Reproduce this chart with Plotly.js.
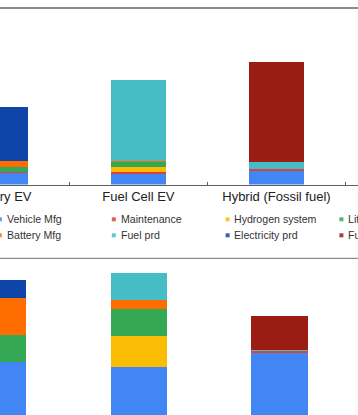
<!DOCTYPE html>
<html>
<head>
<meta charset="utf-8">
<script src="https://cdn.plot.ly/plotly-3.0.1.min.js"></script>
<style>
  html, body { margin: 0; padding: 0; background: #fff; }
  #chart { width: 358px; height: 415px; }
</style>
</head>
<body>
<div id="chart"></div>
<script>
// ---- Data ----
const categories = ['Battery EV', 'Fuel Cell EV', 'Hybrid (Fossil fuel)'];
const seriesNames = ['Vehicle Mfg', 'Maintenance', 'Hydrogen system', 'Lithium battery',
                     'Battery Mfg', 'Fuel prd', 'Electricity prd', 'Fuel combustion'];
const seriesColors = ['#4285F4', '#DB4437', '#FBBC04', '#34A853',
                      '#FF6D01', '#46BDC6', '#0F45A8', '#9B1C13'];

// Upper panel
const vehicleMfgTop   = [11.8, 10.8, 14.0];
const maintenanceTop  = [0.6, 1.4, 2.0];
const hydrogenTop     = [0, 5.3, 0];
const lithiumTop      = [5.1, 5.3, 0];
const batteryMfgTop   = [5.7, 0.4, 0];
const fuelPrdTop      = [0, 81.4, 6.5];
const electricityTop  = [54.3, 0, 0];
const fuelCombTop     = [0, 0, 100.0];

// Lower panel
const vehicleMfgBot   = [103.0, 98.3, 112.3];
const maintenanceBot  = [0, 0, 1.3];
const hydrogenBot     = [0, 30.7, 0];
const lithiumBot      = [26.7, 26.7, 0];
const batteryMfgBot   = [37.0, 9.3, 0];
const fuelPrdBot      = [0, 26.7, 1.4];
const electricityBot  = [18.3, 0, 0];
const fuelCombBot     = [0, 0, 33.7];

const topSeries = [vehicleMfgTop, maintenanceTop, hydrogenTop, lithiumTop,
                   batteryMfgTop, fuelPrdTop, electricityTop, fuelCombTop];
const botSeries = [vehicleMfgBot, maintenanceBot, hydrogenBot, lithiumBot,
                   batteryMfgBot, fuelPrdBot, electricityBot, fuelCombBot];

// ---- Build ----
const W = 358, H = 415;
const py = px => (H - px) / H;   // pixel row -> paper y
const pxX = px => px / W;        // pixel col -> paper x

const traces = [];
seriesNames.forEach((name, i) => {
  traces.push({
    type: 'bar', name: name, x: categories, y: topSeries[i],
    xaxis: 'x', yaxis: 'y', width: 0.4,
    marker: { color: seriesColors[i], line: { width: 0 } },
    showlegend: false, hoverinfo: 'skip'
  });
});
seriesNames.forEach((name, i) => {
  traces.push({
    type: 'bar', name: name, x: categories, y: botSeries[i],
    xaxis: 'x2', yaxis: 'y2', width: 0.4,
    marker: { color: seriesColors[i], line: { width: 0 } },
    showlegend: false, hoverinfo: 'skip'
  });
});

// Legend (4 columns x 2 rows)
const colMarkerX = [-2.2, 111.8, 225.6, 339.4];
const rowY = [219.3, 235.3];
const shapes = [
  { type: 'line', xref: 'paper', yref: 'paper', x0: 0, x1: 1, y0: py(8), y1: py(8),
    line: { color: '#8c8c8c', width: 2 } },
  { type: 'line', xref: 'paper', yref: 'paper', x0: 0, x1: 1, y0: py(258.3), y1: py(258.3),
    line: { color: '#8c8c8c', width: 1.3 } }
];
const annotations = [];
seriesNames.forEach((name, i) => {
  const col = i % 4, row = Math.floor(i / 4);
  const mx = colMarkerX[col], my = rowY[row];
  shapes.push({
    type: 'rect', xref: 'paper', yref: 'paper',
    x0: pxX(mx), x1: pxX(mx + 4), y0: py(my + 2), y1: py(my - 2),
    fillcolor: seriesColors[i], line: { width: 0 }, opacity: 0.85
  });
  annotations.push({
    xref: 'paper', yref: 'paper', x: pxX(mx + 6.8), y: py(my),
    xanchor: 'left', yanchor: 'middle', showarrow: false, text: name,
    font: { family: 'Liberation Sans, Arial, sans-serif', size: 10.6, color: '#333333' }
  });
});

const layout = {
  width: W, height: H,
  margin: { l: 0, r: 0, t: 0, b: 0 },
  paper_bgcolor: '#ffffff', plot_bgcolor: '#ffffff',
  barmode: 'stack',
  showlegend: false,
  font: { family: 'Liberation Sans, Arial, sans-serif', color: '#222' },
  xaxis: {
    domain: [0, 1], anchor: 'y', type: 'category',
    range: [-0.003, -0.003 + W / 138], fixedrange: true,
    showline: true, linecolor: '#5f5f5f', linewidth: 1,
    tickson: 'boundaries', ticks: 'inside', ticklen: 3, tickcolor: '#5f5f5f', tickwidth: 1,
    showgrid: false, zeroline: false,
    tickfont: { family: 'Liberation Sans, Arial, sans-serif', size: 13, color: '#222' }
  },
  yaxis: {
    domain: [py(184.5), py(19.5)], anchor: 'x',
    range: [0, 165], visible: false, showgrid: false, zeroline: false
  },
  xaxis2: {
    domain: [0, 1], anchor: 'y2', type: 'category',
    range: [0.0149, 0.0149 + W / 140.8], visible: false
  },
  yaxis2: {
    domain: [0, py(262)], anchor: 'x2',
    range: [50, 203], visible: false, showgrid: false, zeroline: false
  },
  shapes: shapes,
  annotations: annotations
};

Plotly.newPlot('chart', traces, layout, { displayModeBar: false, staticPlot: true });
</script>
</body>
</html>
